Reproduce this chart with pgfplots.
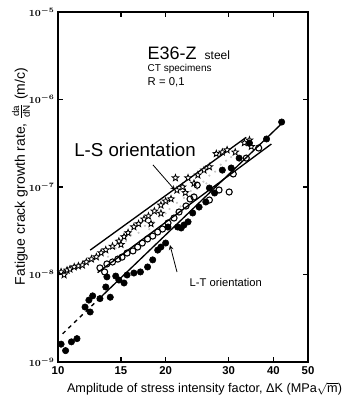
\documentclass[border=0pt]{standalone}
\usepackage{fontspec}
\setmainfont{Liberation Sans}
\usepackage{pgfplots}
\pgfplotsset{compat=1.18}
\pgfdeclareplotmark{ostar}{%
\pgfpathmoveto{\pgfpointpolar{90}{\pgfplotmarksize}}%
\pgfpathlineto{\pgfpointpolar{126}{0.42\pgfplotmarksize}}%
\pgfpathlineto{\pgfpointpolar{162}{\pgfplotmarksize}}%
\pgfpathlineto{\pgfpointpolar{198}{0.42\pgfplotmarksize}}%
\pgfpathlineto{\pgfpointpolar{234}{\pgfplotmarksize}}%
\pgfpathlineto{\pgfpointpolar{270}{0.42\pgfplotmarksize}}%
\pgfpathlineto{\pgfpointpolar{306}{\pgfplotmarksize}}%
\pgfpathlineto{\pgfpointpolar{342}{0.42\pgfplotmarksize}}%
\pgfpathlineto{\pgfpointpolar{18}{\pgfplotmarksize}}%
\pgfpathlineto{\pgfpointpolar{54}{0.42\pgfplotmarksize}}%
\pgfpathclose\pgfusepathqfillstroke}
\begin{document}
\begin{tikzpicture}
\begin{axis}[
  xmode=log, ymode=log,
  scale only axis, width=187.5pt, height=262.5pt,
  xmin=10, xmax=50, ymin=1e-9, ymax=1e-5,
  xtick={10,15,20,30,40,50}, xticklabels={10,15,20,30,40,50},
  ytick={1e-9,1e-8,1e-7,1e-6,1e-5},
  yticklabels={$10^{-9}$,$10^{-8}$,$10^{-7}$,$10^{-6}$,$10^{-5}$},
  tick align=inside, major tick length=4pt,
  xminorticks=false, yminorticks=false,
  axis line style={line width=1.1pt},
  tick style={line width=0.8pt, black},
  xticklabel style={font=\bfseries\fontsize{8.5}{10}\selectfont},
  yticklabel style={font=\boldmath\fontsize{7.5}{9}\selectfont, xshift=1pt},
  xlabel={Amplitude of stress intensity factor, ΔK (MPa$\sqrt{\mathrm{m}}$)},
  x label style={at={(axis description cs:0.586,-0.045)}, anchor=north, font=\fontsize{9.5}{11}\selectfont},
  ylabel={Fatigue crack growth rate, $\frac{\mathrm{da}}{\mathrm{dN}}$ (m/c)},
  y label style={at={(axis description cs:-0.148,0.53)}, anchor=center, font=\fontsize{10.5}{12}\selectfont},
  clip=false,
]
% gray stipple in the L-S band
\addplot[only marks, mark=*, mark size=0.6pt, gray!45, draw=none] coordinates {
(15.5,2.4e-8)(16.8,3.0e-8)(17.5,3.6e-8)(18.5,4.0e-8)(19.2,4.6e-8)(20.5,5.6e-8)
(21.5,6.6e-8)(22.5,7.5e-8)(23.5,9.0e-8)(24.5,9.5e-8)(25.5,1.15e-7)(26.5,1.35e-7)
(27.5,1.5e-7)(28.5,1.8e-7)(16.0,2.8e-8)(18.0,3.3e-8)(20.0,5.0e-8)(22.0,6.0e-8)
(14.5,2.0e-8)(13.8,1.6e-8)(24.0,8.2e-8)(26.0,1.1e-7)(29.5,2.0e-7)(30.5,2.2e-7)
};
% lines
\addplot[black, line width=1pt] coordinates {(12.3,1.9e-8)(33.6,3.7e-7)};
\addplot[black, line width=1pt] coordinates {(12.9,1.05e-8)(39.5,3.1e-7)};
\addplot[black, line width=1pt, dashed] coordinates {(10.3,2.1e-9)(13.1,5.4e-9)};
\addplot[black, line width=1pt] coordinates {(13.1,5.4e-9)(42.2,5.3e-7)};
% L-S stars
\addplot[only marks, mark=ostar, mark size=2.6pt, black, line width=0.6pt, mark options={fill=white}] coordinates {
(10.2,1.07e-8)(10.4,9.9e-9)(10.6,1.12e-8)(10.8,1.15e-8)(11.1,1.22e-8)(11.4,1.25e-8)
(11.7,1.28e-8)(12.0,1.39e-8)(12.4,1.50e-8)(12.8,1.59e-8)(13.2,1.77e-8)(13.6,1.91e-8)
(14.2,2.10e-8)(14.8,2.40e-8)(15.3,2.70e-8)(15.7,3.00e-8)(16.3,3.50e-8)(16.8,3.80e-8)
(17.4,4.30e-8)(17.9,4.65e-8)(18.6,5.30e-8)(19.4,6.20e-8)(20.0,6.90e-8)(20.7,7.30e-8)
(21.5,9.20e-8)(22.3,1.00e-7)(23.1,1.27e-7)(24.0,1.10e-7)(24.6,1.37e-7)(25.6,1.56e-7)
(26.5,1.70e-7)(27.7,2.40e-7)(28.8,2.50e-7)(29.7,2.65e-7)(31.3,2.50e-7)(33.2,3.20e-7)
(34.3,3.44e-7)(34.7,2.90e-7)(19.4,5.0e-8)(18.2,3.8e-8)(21.3,1.27e-7)(22.7,8.6e-8)(15.0,2.2e-8)
};
% open circles
\addplot[only marks, mark=o, mark size=2.3pt, black, line width=0.8pt, mark options={fill=white}] coordinates {
(13.1,1.19e-8)(13.5,1.07e-8)(13.7,1.32e-8)(14.2,1.39e-8)(14.7,1.50e-8)(15.1,1.58e-8)
(15.6,1.76e-8)(16.2,1.86e-8)(16.7,2.06e-8)(17.2,2.29e-8)(17.8,2.55e-8)(18.4,2.75e-8)
(19.0,3.06e-8)(19.6,3.31e-8)(20.3,3.88e-8)(21.1,4.42e-8)(21.8,5.18e-8)(22.8,6.07e-8)
(23.4,7.29e-8)(24.0,7.69e-8)(24.5,1.05e-7)(26.5,7.1e-8)(28.2,9.24e-8)(30.1,8.77e-8)
(30.9,1.41e-7)(33.6,2.14e-7)(36.4,2.79e-7)
};
% filled circles
\addplot[only marks, mark=*, mark size=2.4pt, black] coordinates {
(10.2,1.6e-9)(10.5,1.35e-9)(10.9,1.7e-9)(11.3,1.85e-9)(11.9,4.25e-9)(12.2,5.1e-9)
(12.5,5.7e-9)(12.3,3.73e-9)(13.1,5.3e-9)(14.0,5.5e-9)(13.6,7.2e-9)(13.7,9.4e-9)
(14.5,9.6e-9)(14.8,8.65e-9)(15.3,8.0e-9)(15.6,9.87e-9)(16.3,1.04e-8)(17.0,1.07e-8)
(17.8,1.22e-8)(18.4,1.47e-8)(19.0,1.9e-8)(19.4,2.06e-8)(20.0,2.29e-8)(20.3,3.49e-8)
(21.6,3.49e-8)(22.1,3.4e-8)(22.5,3.68e-8)(23.1,4.0e-8)(23.8,5.05e-8)(24.8,5.9e-8)
(25.9,6.74e-8)(26.5,9.74e-8)(27.4,8.54e-8)(28.8,1.56e-7)(30.5,1.65e-7)(32.1,2.14e-7)
(34.3,3.18e-7)(38.3,3.54e-7)(42.2,5.53e-7)
};
% annotations
\node[font=\fontsize{13.5}{15}\selectfont, anchor=west] at (rel axis cs:0.34,0.883) {E36-Z\, {\fontsize{9}{10}\selectfont steel}};
\node[font=\fontsize{7.5}{9}\selectfont, anchor=west] at (rel axis cs:0.34,0.837) {CT specimens};
\node[font=\fontsize{8.5}{10}\selectfont, anchor=west] at (rel axis cs:0.34,0.80) {R = 0,1};
\node[font=\fontsize{14}{16}\selectfont] at (rel axis cs:0.308,0.606) {L-S orientation};
\draw[-stealth, line width=0.6pt] (rel axis cs:0.38,0.563) -- (rel axis cs:0.468,0.491);
\node[font=\fontsize{8.4}{10}\selectfont, anchor=west] at (rel axis cs:0.508,0.2286) {L-T orientation};
\draw[-stealth, line width=0.6pt] (rel axis cs:0.476,0.257) -- (rel axis cs:0.448,0.334);
\end{axis}
\pgfresetboundingbox
\path[use as bounding box] (-43.5pt,-33pt) rectangle (218.25pt,271.5pt);
\end{tikzpicture}
\end{document}
